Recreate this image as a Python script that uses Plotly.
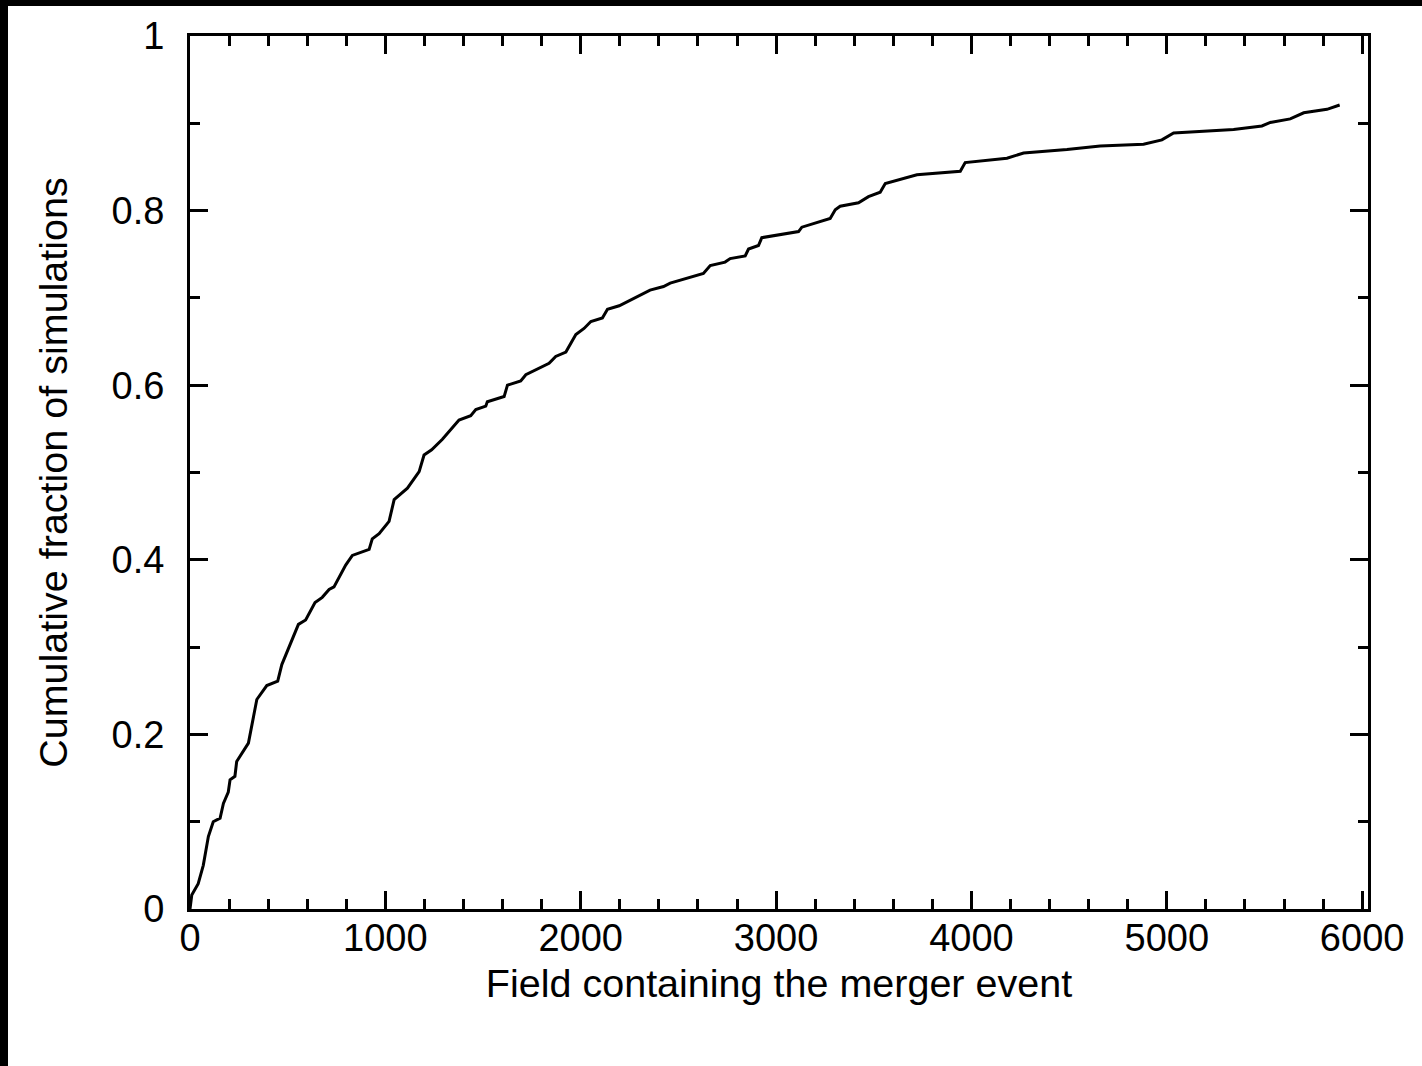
import plotly.graph_objects as go

# Cumulative fraction of simulations vs. field index of the merger event
field = [0, 9, 42, 68, 94, 119, 154, 171, 196, 205, 230, 239, 299, 307, 342, 393,
         449, 470, 555, 592, 612, 640, 677, 712, 737, 797, 831, 917, 933, 968,
         1019, 1045, 1113, 1173, 1198, 1237, 1292, 1326, 1377, 1437, 1463, 1514,
         1522, 1608, 1625, 1693, 1719, 1838, 1872, 1924, 1975, 2017, 2052, 2111,
         2137, 2197, 2256, 2355, 2424, 2458, 2628, 2663, 2739, 2765, 2842, 2859,
         2910, 2927, 3115, 3132, 3277, 3303, 3328, 3422, 3473, 3533, 3559, 3619,
         3721, 3943, 3968, 4182, 4267, 4489, 4659, 4881, 4975, 5035, 5342, 5487,
         5530, 5632, 5701, 5820, 5885]
fraction = [0.0, 0.016, 0.029, 0.050, 0.083, 0.100, 0.104, 0.121, 0.134, 0.148,
            0.152, 0.169, 0.190, 0.199, 0.240, 0.256, 0.261, 0.280, 0.326, 0.331,
            0.340, 0.351, 0.357, 0.366, 0.369, 0.394, 0.405, 0.412, 0.424, 0.430,
            0.444, 0.469, 0.482, 0.501, 0.520, 0.526, 0.538, 0.547, 0.560, 0.565,
            0.572, 0.576, 0.581, 0.587, 0.600, 0.605, 0.612, 0.625, 0.633, 0.638,
            0.658, 0.665, 0.673, 0.677, 0.687, 0.691, 0.698, 0.709, 0.713, 0.717,
            0.728, 0.737, 0.741, 0.745, 0.748, 0.756, 0.760, 0.769, 0.776, 0.781,
            0.791, 0.801, 0.805, 0.809, 0.816, 0.821, 0.831, 0.835, 0.841, 0.845,
            0.855, 0.860, 0.866, 0.870, 0.874, 0.876, 0.881, 0.889, 0.893, 0.897,
            0.901, 0.905, 0.912, 0.916, 0.921]

x_ticks = [0, 1000, 2000, 3000, 4000, 5000, 6000]
x_ticktext = ["0", "1000", "2000", "3000", "4000", "5000", "6000"]
y_ticks = [0, 0.2, 0.4, 0.6, 0.8, 1.0]
y_ticktext = ["0", "0.2", "0.4", "0.6", "0.8", "1"]

FONT = "Liberation Sans, Arial, Helvetica, sans-serif"

fig = go.Figure()
fig.add_trace(go.Scatter(
    x=field, y=fraction, mode="lines",
    line=dict(color="black", width=3),
    showlegend=False, hoverinfo="skip",
))

axis_common = dict(
    showgrid=False, zeroline=False,
    showline=True, linecolor="black", linewidth=3, mirror="ticks",
    ticks="inside", ticklen=18, tickwidth=3, tickcolor="black",
    tickfont=dict(family=FONT, size=38, color="black"),
)

fig.update_xaxes(
    range=[0, 6030], tickmode="array", tickvals=x_ticks, ticktext=x_ticktext,
    minor=dict(dtick=200, ticks="inside", ticklen=10, tickwidth=3, tickcolor="black", showgrid=False),
    ticklabelstandoff=-7,
    title=dict(text="Field containing the merger event",
               font=dict(family=FONT, size=39.5, color="black"), standoff=12),
    **axis_common,
)
fig.update_yaxes(
    range=[0, 1], tickmode="array", tickvals=y_ticks, ticktext=y_ticktext,
    minor=dict(dtick=0.1, ticks="inside", ticklen=10, tickwidth=3, tickcolor="black", showgrid=False),
    ticklabelstandoff=15,
    title=dict(text="Cumulative fraction of simulations",
               font=dict(family=FONT, size=39.5, color="black"), standoff=32),
    **axis_common,
)

W, H = 1422, 1066
L, R, T, B = 190, 54, 36, 157
pw, ph = W - L - R, H - T - B


def px_to_paper_x(px):
    return (px - L) / pw


def px_to_paper_y(py):
    return (H - B - py) / ph


# dark frame strips along the top and left edges of the page
fig.add_shape(type="rect", xref="paper", yref="paper",
              x0=px_to_paper_x(0), x1=px_to_paper_x(W), y0=px_to_paper_y(6), y1=px_to_paper_y(0),
              fillcolor="black", line=dict(width=0), layer="above")
fig.add_shape(type="rect", xref="paper", yref="paper",
              x0=px_to_paper_x(0), x1=px_to_paper_x(8), y0=px_to_paper_y(H), y1=px_to_paper_y(0),
              fillcolor="black", line=dict(width=0), layer="above")

fig.update_layout(
    width=W, height=H,
    margin=dict(l=L, r=R, t=T, b=B, pad=0),
    paper_bgcolor="white", plot_bgcolor="white",
    font=dict(family=FONT, color="black"),
)

fig.write_html("out.html")
